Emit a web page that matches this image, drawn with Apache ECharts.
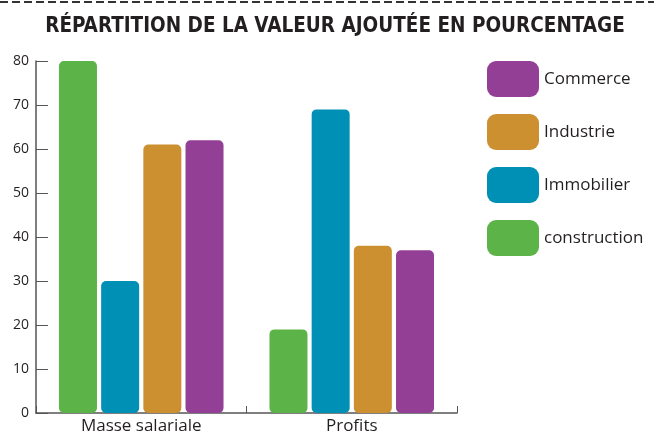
<!DOCTYPE html>
<html>
<head>
<meta charset="utf-8">
<script src="https://cdn.jsdelivr.net/npm/echarts@6/dist/echarts.min.js"></script>
<style>
  html, body { margin: 0; padding: 0; background: #fff; }
  #chart { width: 654px; height: 434px; }
</style>
</head>
<body>
<div id="chart"></div>
<script>
// Data
const categories = ["Masse salariale", "Profits"];
const seriesNames = ["construction", "Immobilier", "Industrie", "Commerce"];
const construction = [80, 19];
const immobilier = [30, 69];
const industrie = [61, 38];
const commerce = [62, 37];
const legendOrder = ["Commerce", "Industrie", "Immobilier", "construction"];
const yTicks = [0, 10, 20, 30, 40, 50, 60, 70, 80];

const colors = ["#5cb347", "#0090b5", "#cc9030", "#943f96"];
const values = [construction, immobilier, industrie, commerce];

const chart = echarts.init(document.getElementById("chart"));

const series = seriesNames.map((name, i) => ({
  name: name,
  type: "bar",
  data: values[i],
  barWidth: 38,
  barGap: "11%",
  itemStyle: { color: colors[i], borderRadius: [5, 5, 5, 5] },
}));

const option = {
  animation: false,
  title: {
    text: "RÉPARTITION DE LA VALEUR AJOUTÉE EN POURCENTAGE",
    left: 330,
    textAlign: "center",
    top: 11,
    textStyle: {
      fontFamily: "DejaVu Sans Condensed",
      fontWeight: "bold",
      fontSize: 20.5,
      color: "#231f20",
    },
  },
  graphic: [
    {
      type: "line",
      shape: { x1: 0, y1: 2, x2: 654, y2: 2 },
      style: { stroke: "#333", lineWidth: 2, lineDash: [8, 4] },
    },
  ],
  legend: {
    data: legendOrder,
    orient: "vertical",
    left: 482,
    top: 56,
    itemWidth: 52,
    itemHeight: 36,
    itemGap: 17,
    icon: "roundRect",
    textStyle: { fontFamily: "Open Sans", fontSize: 17, color: "#231f20" },
  },
  grid: { left: 36, right: 197, top: 61, bottom: 21, outerBoundsMode: "none" },
  xAxis: {
    type: "category",
    data: categories,
    axisLine: { lineStyle: { color: "#555", width: 1.5 } },
    axisTick: { show: true, inside: true, length: 7, lineStyle: { color: "#555" } },
    axisLabel: { fontFamily: "Open Sans", fontSize: 17, color: "#231f20", margin: 5 },
  },
  yAxis: {
    type: "value",
    min: yTicks[0],
    max: yTicks[yTicks.length - 1],
    interval: 10,
    splitLine: { show: false },
    axisLine: { show: true, lineStyle: { color: "#555", width: 1.5 } },
    axisTick: { show: true, inside: true, length: 12, lineStyle: { color: "#555" } },
    axisLabel: { fontFamily: "Open Sans", fontSize: 14, color: "#231f20", margin: 7 },
  },
  series: series,
};

chart.setOption(option);
</script>
</body>
</html>
